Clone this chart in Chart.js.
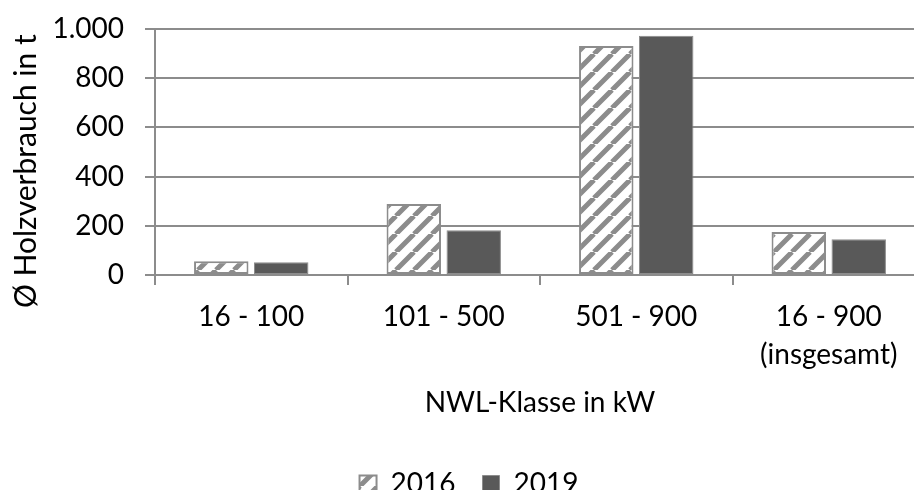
<!DOCTYPE html>
<html>
<head>
<meta charset="utf-8">
<script src="https://cdn.jsdelivr.net/npm/chart.js@4"></script>
<style>
  html, body { margin: 0; padding: 0; background: #fff; overflow: hidden; }
  #wrap { width: 934px; height: 508px; }
</style>
</head>
<body>
<div id="wrap"><canvas id="chart" width="934" height="508"></canvas></div>
<script>
// Daten
const klassen = ['16 - 100', '101 - 500', '501 - 900', ['16 - 900', '(insgesamt)']];
const werte2016 = [56, 289, 931, 175];
const werte2019 = [52, 182, 973, 145];
const yTicks = [0, 200, 400, 600, 800, 1000];

const grau = '#8c8c8c';

// Schraffur für 2016
function schraffur() {
    const s = 18;
    const c = document.createElement('canvas');
    c.width = s;
    c.height = s;
    const ctx = c.getContext('2d');
    ctx.fillStyle = '#fff';
    ctx.fillRect(0, 0, s, s);
    ctx.strokeStyle = grau;
    ctx.lineWidth = 5;
    ctx.beginPath();
    for (const k of [-s, 0, s]) {
        ctx.moveTo(k, s);
        ctx.lineTo(k + s, 0);
    }
    ctx.stroke();
    return ctx.createPattern(c, 'repeat');
}

function tausender(v) {
    return String(v).replace(/\B(?=(\d{3})+(?!\d))/g, '.');
}

Chart.defaults.font.family = 'Lato';
Chart.defaults.font.size = 28;
Chart.defaults.color = '#000';

new Chart(document.getElementById('chart'), {
    type: 'bar',
    data: {
        labels: klassen,
        datasets: [{
            label: '2016',
            data: werte2016,
            backgroundColor: schraffur(),
            borderColor: grau,
            borderWidth: 2,
            borderSkipped: false
        }, {
            label: '2019',
            data: werte2019,
            backgroundColor: '#595959',
            borderColor: '#8c8c8c',
            borderWidth: 1,
            borderSkipped: false
        }]
    },
    options: {
        responsive: false,
        animation: false,
        categoryPercentage: 0.623,
        barPercentage: 0.908,
        layout: { padding: { top: 29, right: 9, left: 13, bottom: 0 } },
        plugins: {
            legend: {
                position: 'bottom',
                labels: { boxWidth: 17, boxHeight: 17, padding: 27, font: { size: 28 } }
            },
            tooltip: { enabled: false }
        },
        scales: {
            x: {
                afterFit: s => { s.height = 168; },
                grid: { drawOnChartArea: false, drawTicks: true, tickLength: 10, color: grau, lineWidth: 2 },
                border: { color: grau, width: 2 },
                ticks: { maxRotation: 0, autoSkip: false, padding: 13.5, font: { size: 28, lineHeight: 1.35 } },
                title: { display: true, text: 'NWL-Klasse in kW', padding: { top: 9, bottom: 23.7 }, font: { size: 28 } }
            },
            y: {
                min: 0,
                max: 1000,
                afterFit: s => {
                    s.width = 142;
                    s.paddingTop = 0;
                    s.paddingBottom = 0;
                },
                afterBuildTicks: s => { s.ticks = yTicks.map(v => ({ value: v })); },
                grid: { color: grau, lineWidth: 2, tickLength: 10 },
                border: { color: grau, width: 2 },
                ticks: { padding: 21, callback: v => tausender(v), font: { size: 28 } },
                title: { display: true, text: 'Ø Holzverbrauch in t     ', padding: 0, font: { size: 30, lineHeight: 0.9 } }
            }
        }
    }
});
</script>
</body>
</html>
